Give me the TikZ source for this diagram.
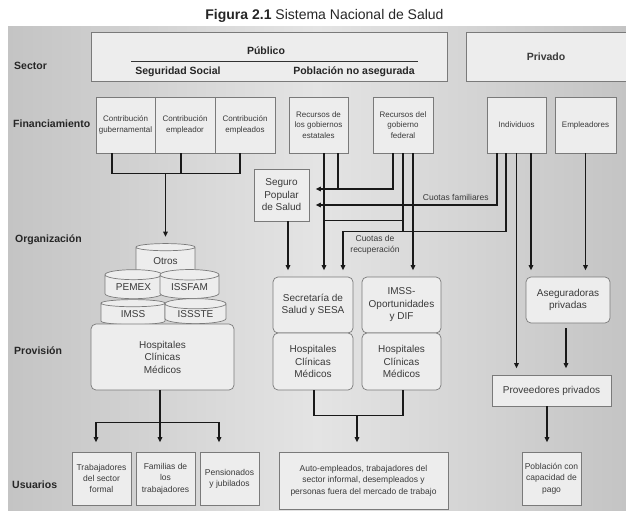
\documentclass[tikz,border=0pt]{standalone}
\usepackage{fontspec}
\setmainfont{Liberation Sans}
\usepackage{tikz}
\usetikzlibrary{shapes.geometric}
\usetikzlibrary{arrows.meta}
\definecolor{bgdark}{HTML}{C4C4C4}
\definecolor{bglight}{HTML}{E4E4E4}
\definecolor{boxfill}{HTML}{EDEDED}
\definecolor{boxline}{HTML}{7A7A7A}
\definecolor{txtgray}{HTML}{3A3A3A}
\newcommand{\fsz}[2]{\fontsize{#1}{#2}\selectfont}

\begin{document}
\begin{tikzpicture}[x=1pt, y=-1pt,
        box/.style={draw=boxline, fill=boxfill, line width=.7pt, align=center, text=txtgray, inner sep=1pt, font=\fsz{10}{12.5}},
        rbox/.style={box, rounded corners=5pt},
        cyl/.style={box, cylinder, shape border rotate=90, aspect=0.27},
        rowlabel/.style={anchor=west, inner sep=0pt, font=\bfseries\fsz{10.5}{12}, text=black!85},
        smalltxt/.style={font=\fsz{8}{10.5}},
        users/.style={font=\fsz{8.5}{11.3}},
        ln/.style={line width=1.3pt, black!90},
        arr/.style={ln, -{Triangle[length=5pt, width=4.5pt]}, shorten >=6.5pt}]
        \useasboundingbox (0,0) rectangle (626,514);
        \fill[left color=bgdark, right color=bgdark, middle color=bglight] (8,26) rectangle (626,510);
        \node[font=\fsz{14}{16}, text=black!85] (titulo) at (324.5,16) {\textbf{Figura 2.1} Sistema Nacional de Salud};

        \node[box, minimum width=356, minimum height=49] (publico) at (269,56.5) {};
        \node[font=\bfseries\fsz{10.5}{12}, text=black!85] (pubtxt) at (266,51) {Público};
        \draw[line width=.9pt, black!80] (131,61) -- (418,61);
        \node[font=\bfseries\fsz{10.5}{12}, text=black!85] (segsoc) at (178,72) {Seguridad Social};
        \node[font=\bfseries\fsz{10.5}{12}, text=black!85] (pobna) at (354,72) {Población no asegurada};
        \node[box, minimum width=160, minimum height=49, font=\bfseries\fsz{10.5}{12}] (privado) at (546,56.5) {Privado};

        \node[rowlabel] (lsector) at (14,66) {Sector};
        \node[rowlabel] (lfin) at (13,124) {Financiamiento};
        \node[rowlabel] (lorg) at (15,240) {Organización};
        \node[rowlabel] (lprov) at (14,351) {Provisión};
        \node[rowlabel] (luser) at (12,485) {Usuarios};

        \node[box, smalltxt, minimum width=59, minimum height=56] (cgub) at (125.5,125) {Contribución\\gubernamental};
        \node[box, smalltxt, minimum width=60, minimum height=56] (cemp) at (185,125) {Contribución\\empleador};
        \node[box, smalltxt, minimum width=60, minimum height=56] (cempl) at (245,125) {Contribución\\empleados};
        \node[box, smalltxt, minimum width=59, minimum height=56] (rest) at (318.5,125) {Recursos de\\los gobiernos\\estatales};
        \node[box, smalltxt, minimum width=60, minimum height=56] (rfed) at (403,125) {Recursos del\\gobierno\\federal};
        \node[box, smalltxt, minimum width=59, minimum height=56] (indiv) at (516.5,125) {Individuos};
        \node[box, smalltxt, minimum width=61, minimum height=56] (emple) at (585.5,125) {Empleadores};

        \node[box, minimum width=55, minimum height=52] (seguro) at (281.5,195) {Seguro\\Popular\\de Salud};

        \node[cyl, minimum width=59, minimum height=31] (otros) at (165.5,261.5) {Otros};
        \node[cyl, minimum width=57, minimum height=29] (pemex) at (133.5,287.5) {PEMEX};
        \node[cyl, minimum width=59, minimum height=29] (issfam) at (189.5,287.5) {ISSFAM};
        \node[cyl, minimum width=64, minimum height=25] (imss) at (133,314.5) {IMSS};
        \node[cyl, minimum width=61, minimum height=25] (issste) at (195.5,314.5) {ISSSTE};
        \node[rbox, minimum width=143, minimum height=66] (hosp) at (162.5,357) {Hospitales\\Clínicas\\Médicos};

        \node[rbox, minimum width=80, minimum height=56] (secre) at (313,305) {Secretaría de\\Salud y SESA};
        \node[rbox, minimum width=80, minimum height=57] (hospsec) at (313,361.5) {Hospitales\\Clínicas\\Médicos};
        \node[rbox, minimum width=79, minimum height=56] (imsso) at (401.5,305) {IMSS-\\Oportunidades\\y DIF};
        \node[rbox, minimum width=79, minimum height=57] (hospimss) at (401.5,361.5) {Hospitales\\Clínicas\\Médicos};

        \node[rbox, minimum width=84, minimum height=46] (asegur) at (568,300) {Aseguradoras\\privadas};
        \node[box, minimum width=119, minimum height=31] (provee) at (551.5,390.5) {Proveedores privados};

        \node[box, users, minimum width=59, minimum height=53] (trab) at (101.5,478.5) {Trabajadores\\del sector\\formal};
        \node[box, users, minimum width=59, minimum height=53] (famil) at (165.5,478.5) {Familias de\\los\\trabajadores};
        \node[box, users, minimum width=59, minimum height=53] (pensi) at (229.5,478.5) {Pensionados\\y jubilados};
        \node[box, users, minimum width=169, minimum height=57] (autoe) at (363.5,480.5) {Auto-empleados, trabajadores del\\sector informal, desempleados y\\personas fuera del mercado de trabajo};
        \node[box, users, minimum width=59, minimum height=53] (pobla) at (551.5,478.5) {Población con\\capacidad de\\pago};

        \draw[ln] ([xshift=-13.5pt]cgub.south) -- ++(0,20) coordinate (bc) -| ([xshift=-5pt]cempl.south);
        \draw[ln] ([xshift=-4pt]cemp.south) -- ++(0,20);
        \draw[arr] (otros.north |- bc) -- (otros.north);

        \draw[arr] ([xshift=5.5pt]rest.south) -- ([xshift=11pt]secre.north);
        \draw[ln] ([xshift=19.5pt]rest.south) -- ++(0,36);
        \draw[arr] ([xshift=-10pt]rfed.south) |- ([yshift=6pt]seguro.east);
        \draw[ln] (rfed.south) -- ++(0,78);
        \draw[ln] ([yshift=-67pt]rfed.south) -- ++(-79,0);
        \draw[arr] ([xshift=10pt]rfed.south) -- ([xshift=11.5pt]imsso.north);
        \draw[arr] ([xshift=6.5pt]seguro.south) -- ([xshift=6.5pt]seguro.south |- secre.north);

        \draw[arr] ([xshift=-19.5pt]indiv.south) |- node[pos=0.61, above, users, text=txtgray] (cuotasfam) {Cuotas familiares} ([yshift=-10pt]seguro.east);
        \draw[arr] ([xshift=-10.5pt]indiv.south) -- ++(0,78) -| ([xshift=30pt]secre.north);
        \node[users, text=txtgray, align=center] (cuotasrec) at (375,245) {Cuotas de\\recuperación};
        \draw[arr] (indiv.south) -- (indiv.south |- provee.north);
        \draw[arr] ([xshift=14.5pt]indiv.south) -- ([xshift=14.5pt]indiv.south |- asegur.north);
        \draw[arr] (emple.south) -- (emple.south |- asegur.north);
        \draw[arr, shorten <=5pt] ([xshift=-2pt]asegur.south) -- ([xshift=-2pt]asegur.south |- provee.north);
        \draw[arr, shorten >=9.5pt] ([xshift=-4.5pt]provee.south) -- ([xshift=-4.5pt]provee.south |- pobla.north);

        \draw[ln] ([xshift=-2.5pt]hosp.south) -- ++(0,32) coordinate (bh);
        \draw[ln] ([xshift=-5.5pt]trab.north |- bh) -- ([xshift=-10.5pt]pensi.north |- bh);
        \draw[arr, shorten >=9.5pt] ([xshift=-5.5pt]trab.north |- bh) -- ([xshift=-5.5pt]trab.north);
        \draw[arr, shorten >=9.5pt] ([xshift=-5.5pt]famil.north |- bh) -- ([xshift=-5.5pt]famil.north);
        \draw[arr, shorten >=9.5pt] ([xshift=-10.5pt]pensi.north |- bh) -- ([xshift=-10.5pt]pensi.north);

        \draw[ln] ([xshift=1pt]hospsec.south) -- ++(0,25) coordinate (bm) -| ([xshift=1.5pt]hospimss.south);
        \draw[arr, shorten >=9.5pt] ([xshift=-6.5pt]autoe.north |- bm) -- ([xshift=-6.5pt]autoe.north);
    \end{tikzpicture}
\end{document}
